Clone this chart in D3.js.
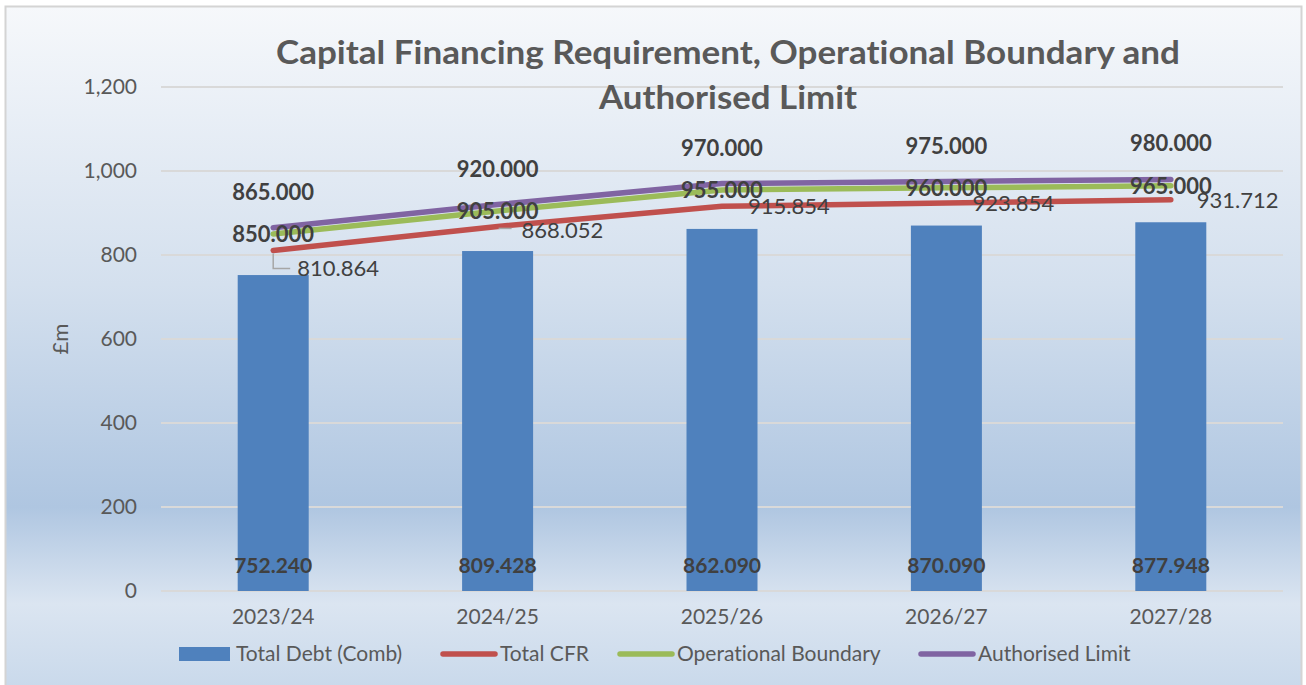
<!DOCTYPE html>
<html>
<head>
<meta charset="utf-8">
<script src="https://cdn.jsdelivr.net/npm/d3@7"></script>
<style>
  body { margin: 0; background: #fff; }
  text, tspan {
    font-family: Lato, "Open Sans", sans-serif;
    font-variant-ligatures: none;
    font-feature-settings: "liga" 0, "clig" 0, "dlig" 0;
  }
</style>
</head>
<body>
<script>
var w = 1306,
    h = 685;

// Data
var years = ['2023/24', '2024/25', '2025/26', '2026/27', '2027/28'];
var totalDebt = [752.240, 809.428, 862.090, 870.090, 877.948];
var totalCFR = [810.864, 868.052, 915.854, 923.854, 931.712];
var opBoundary = [850.000, 905.000, 955.000, 960.000, 965.000];
var authLimit = [865.000, 920.000, 970.000, 975.000, 980.000];
var yTicks = [0, 200, 400, 600, 800, 1000, 1200];
var legendNames = ['Total Debt (Comb)', 'Total CFR', 'Operational Boundary', 'Authorised Limit'];

var colors = {
  bar: '#4f81bd',
  cfr: '#c0504d',
  op: '#9bbb59',
  auth: '#8064a2'
};

var svg = d3.select('body')
            .append('svg')
            .attr('width', w)
            .attr('height', h);

// background gradient
var defs = svg.append('defs');
var grad = defs.append('linearGradient')
               .attr('id', 'bg')
               .attr('x1', 0).attr('y1', 0)
               .attr('x2', 0).attr('y2', 1);
[[0, '#f6f8fb'], [0.4, '#d4e0ee'], [0.72, '#afc6e1'], [0.86, '#dbe5f1'], [1, '#c6d7ea']]
  .forEach(function(s) {
    grad.append('stop').attr('offset', s[0]).attr('stop-color', s[1]);
  });

svg.append('rect')
   .attr('x', 5.5)
   .attr('y', 6.5)
   .attr('width', w - 10)
   .attr('height', h + 10)
   .attr('fill', 'url(#bg)')
   .attr('stroke', '#d4d4d4')
   .attr('stroke-width', 2);

var margin = {left: 161, right: 1283, top: 87, bottom: 591};

var x = d3.scaleBand()
          .domain(years)
          .range([margin.left, margin.right]);

var y = d3.scaleLinear()
          .domain([0, 1200])
          .range([margin.bottom, margin.top]);

var cx = function(d, i) { return x(years[i]) + x.bandwidth() / 2; };

// gridlines
svg.append('g')
   .selectAll('line')
   .data(yTicks)
   .enter()
   .append('line')
   .attr('x1', margin.left)
   .attr('x2', margin.right)
   .attr('y1', function(d) { return y(d); })
   .attr('y2', function(d) { return y(d); })
   .attr('stroke', '#d9d9d9')
   .attr('stroke-width', 2);

// y axis labels
var yAxis = d3.axisLeft(y)
              .tickValues(yTicks)
              .tickSize(0)
              .tickPadding(0)
              .tickFormat(d3.format(','));

var yg = svg.append('g')
            .attr('transform', 'translate(137,0)')
            .call(yAxis);
yg.select('.domain').remove();
yg.selectAll('text')
  .attr('font-size', 21)
  .attr('fill', '#595959')
  .style('font-family', 'Lato, sans-serif');

// x axis labels
var xAxis = d3.axisBottom(x).tickSize(0).tickPadding(0);
var xg = svg.append('g')
            .attr('transform', 'translate(0,' + 609 + ')')
            .call(xAxis);
xg.select('.domain').remove();
xg.selectAll('text')
  .attr('font-size', 21)
  .attr('fill', '#595959')
  .style('font-family', 'Lato, sans-serif');

// y axis title
svg.append('text')
   .attr('transform', 'translate(68,339) rotate(-90)')
   .attr('text-anchor', 'middle')
   .attr('font-size', 22)
   .attr('fill', '#595959')
   .text('£m');

// bars
var barW = 71;
svg.append('g')
   .selectAll('rect')
   .data(totalDebt)
   .enter()
   .append('rect')
   .attr('x', function(d, i) { return cx(d, i) - barW / 2; })
   .attr('y', function(d) { return y(d); })
   .attr('width', barW)
   .attr('height', function(d) { return y(0) - y(d); })
   .attr('fill', colors.bar);

// lines
var line = d3.line()
             .x(function(d, i) { return cx(d, i); })
             .y(function(d) { return y(d); });

[[totalCFR, colors.cfr], [opBoundary, colors.op], [authLimit, colors.auth]]
  .forEach(function(s) {
    svg.append('path')
       .datum(s[0])
       .attr('d', line)
       .attr('fill', 'none')
       .attr('stroke', s[1])
       .attr('stroke-width', 5.5)
       .attr('stroke-linecap', 'round')
       .attr('stroke-linejoin', 'round');
  });

var fmt = d3.format('.3f');

// bar labels (inside base)
svg.append('g')
   .selectAll('text')
   .data(totalDebt)
   .enter()
   .append('text')
   .attr('x', cx)
   .attr('y', 573)
   .attr('text-anchor', 'middle')
   .attr('font-size', 21)
   .attr('font-weight', 'bold')
   .attr('fill', '#404040')
   .text(fmt);

// CFR labels to the right, first two nudged down with leader lines
var cfrDy = [18, 4, 0, 0, 0];
svg.append('g')
   .selectAll('text')
   .data(totalCFR)
   .enter()
   .append('text')
   .attr('x', function(d, i) { return cx(d, i) + (i < 2 ? 24 : 26); })
   .attr('y', function(d, i) { return y(d) + cfrDy[i] + 8; })
   .attr('font-size', 22)
   .attr('fill', '#404040')
   .text(fmt);

var leaders = svg.append('g')
                 .attr('fill', 'none')
                 .attr('stroke', '#a6a6a6')
                 .attr('stroke-width', 1.5);
leaders.append('path')
       .attr('d', 'M' + cx(0, 0) + ',' + (y(totalCFR[0]) + 3) +
                  'V' + (y(totalCFR[0]) + 18) + 'H' + (cx(0, 0) + 17));
leaders.append('path')
       .attr('d', 'M' + (cx(0, 1) + 1) + ',' + (y(totalCFR[1]) + 2) +
                  'H' + (cx(0, 1) + 14));

// Operational boundary labels centred on points
svg.append('g')
   .selectAll('text')
   .data(opBoundary)
   .enter()
   .append('text')
   .attr('x', cx)
   .attr('y', function(d) { return y(d) + 8; })
   .attr('text-anchor', 'middle')
   .attr('font-size', 22)
   .attr('font-weight', 'bold')
   .attr('fill', '#404040')
   .text(fmt);

// Authorised limit labels above
svg.append('g')
   .selectAll('text')
   .data(authLimit)
   .enter()
   .append('text')
   .attr('x', cx)
   .attr('y', function(d) { return y(d) - 28; })
   .attr('text-anchor', 'middle')
   .attr('font-size', 22)
   .attr('font-weight', 'bold')
   .attr('fill', '#404040')
   .text(fmt);

// title
var title = svg.append('text')
               .attr('text-anchor', 'middle')
               .attr('font-size', 33)
               .attr('font-weight', 'bold')
               .attr('fill', '#595959');
title.append('tspan')
     .attr('x', 728)
     .attr('y', 64)
     .attr('textLength', 904)
     .attr('lengthAdjust', 'spacingAndGlyphs')
     .text('Capital Financing Requirement, Operational Boundary and');
title.append('tspan')
     .attr('x', 728)
     .attr('y', 109)
     .attr('textLength', 258)
     .attr('lengthAdjust', 'spacingAndGlyphs')
     .text('Authorised Limit');

// legend
var legendX = [179, 441, 618, 919];
var legendCol = [colors.bar, colors.cfr, colors.op, colors.auth];
var lg = svg.append('g');
legendNames.forEach(function(name, i) {
  if (i === 0) {
    lg.append('rect')
      .attr('x', legendX[i])
      .attr('y', 647)
      .attr('width', 51)
      .attr('height', 14)
      .attr('fill', legendCol[i]);
  } else {
    lg.append('line')
      .attr('x1', legendX[i] + 2)
      .attr('x2', legendX[i] + 54)
      .attr('y1', 654)
      .attr('y2', 654)
      .attr('stroke', legendCol[i])
      .attr('stroke-width', 5.5)
      .attr('stroke-linecap', 'round');
  }
  lg.append('text')
    .attr('x', legendX[i] + (i === 0 ? 57 : 59))
    .attr('y', 661)
    .attr('font-size', 21)
    .attr('fill', '#595959')
    .text(name);
});
</script>
</body>
</html>
